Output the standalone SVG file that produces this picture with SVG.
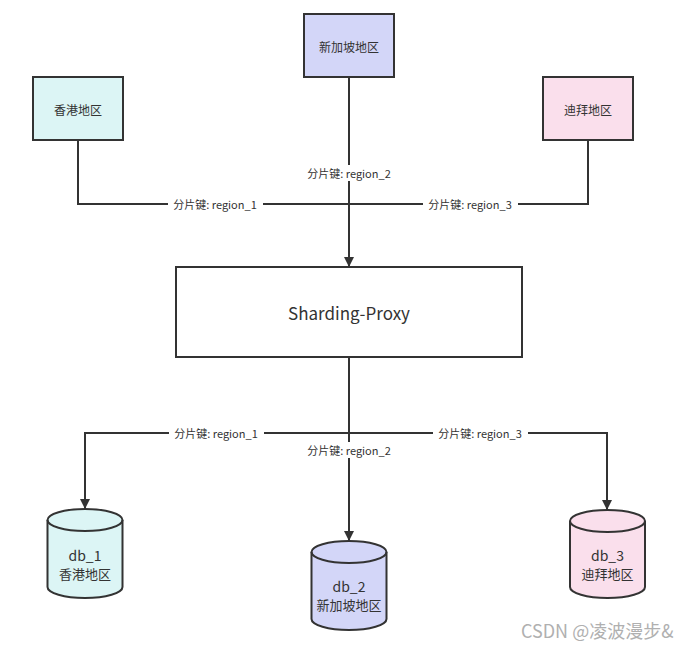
<svg xmlns="http://www.w3.org/2000/svg" width="696" height="650" viewBox="0 0 696 650">
<defs>
<style>
.box{stroke:#333;stroke-width:2}
.t{font-family:"Noto Sans CJK SC","Liberation Sans",sans-serif;fill:#333;text-anchor:middle;dominant-baseline:central}
.lbl{font-size:11px}
.lbg{fill:#fff}
.edge{fill:none;stroke:#333;stroke-width:2}
</style>
<marker id="arr" viewBox="0 0 10 10" refX="9" refY="5" markerWidth="5" markerHeight="5" orient="auto" markerUnits="strokeWidth">
<path d="M0,0 L10,5 L0,10 Z" fill="#333"/>
</marker>
</defs>
<rect width="696" height="650" fill="#fff"/>
<g id="connectors">
<path class="edge" d="M78,140 V204 H349"/>
<path class="edge" d="M588,140 V204 H349"/>
<path class="edge" d="M349,77 V266" marker-end="url(#arr)"/>
<path class="edge" d="M349,357 V433 H85 V508" marker-end="url(#arr)"/>
<path class="edge" d="M349,433 V540" marker-end="url(#arr)"/>
<path class="edge" d="M349,433 H607 V509" marker-end="url(#arr)"/>
<rect class="lbg" x="302" y="165" width="95" height="16"/>
<text class="t lbl" x="349" y="173">分片键: region_2</text>
<rect class="lbg" x="168" y="196" width="95" height="16"/>
<text class="t lbl" x="215" y="204">分片键: region_1</text>
<rect class="lbg" x="423" y="196" width="95" height="16"/>
<text class="t lbl" x="470" y="204">分片键: region_3</text>
<rect class="lbg" x="169" y="425" width="95" height="16"/>
<text class="t lbl" x="216" y="433">分片键: region_1</text>
<rect class="lbg" x="302" y="442" width="95" height="16"/>
<text class="t lbl" x="349" y="450">分片键: region_2</text>
<rect class="lbg" x="433" y="425" width="95" height="16"/>
<text class="t lbl" x="480" y="433">分片键: region_3</text>
</g>
<g id="hk">
<rect class="box" x="33" y="77" width="90" height="63" fill="#dcf5f5"/>
<text class="t" x="78" y="109" font-size="12">香港地区</text>
</g>
<g id="sg">
<rect class="box" x="304" y="14" width="90" height="63" fill="#d3d6f8"/>
<text class="t" x="349" y="46" font-size="12">新加坡地区</text>
</g>
<g id="dubai">
<rect class="box" x="543" y="77" width="90" height="63" fill="#fadfec"/>
<text class="t" x="588" y="109" font-size="12">迪拜地区</text>
</g>
<g id="proxy">
<rect class="box" x="176" y="267" width="346" height="90" fill="#fff"/>
<text class="t" x="349" y="312" font-size="17">Sharding-Proxy</text>
</g>
<g id="db1">
<path class="box" fill="#dcf5f5" d="M47.5,520 A37.5,11 0 0 1 122.5,520 V587 A37.5,11 0 0 1 47.5,587 Z"/>
<path class="box" fill="none" d="M47.5,520 A37.5,11 0 0 0 122.5,520"/>
<text class="t" x="85" y="555" font-size="14">db_1</text>
<text class="t" x="85" y="573" font-size="13">香港地区</text>
</g>
<g id="db2">
<path class="box" fill="#d3d6f8" d="M311.5,552 A37.5,11 0 0 1 386.5,552 V619 A37.5,11 0 0 1 311.5,619 Z"/>
<path class="box" fill="none" d="M311.5,552 A37.5,11 0 0 0 386.5,552"/>
<text class="t" x="349" y="586" font-size="14">db_2</text>
<text class="t" x="349" y="604" font-size="13">新加坡地区</text>
</g>
<g id="db3">
<path class="box" fill="#fadfec" d="M570,521 A37.5,11 0 0 1 645,521 V587 A37.5,11 0 0 1 570,587 Z"/>
<path class="box" fill="none" d="M570,521 A37.5,11 0 0 0 645,521"/>
<text class="t" x="607.5" y="555" font-size="14">db_3</text>
<text class="t" x="607.5" y="573" font-size="13">迪拜地区</text>
</g>
<text x="521" y="638" font-family="'Noto Sans CJK SC','Liberation Sans',sans-serif" font-size="18" fill="#b0b0b0">CSDN @凌波漫步&amp;</text>
</svg>
